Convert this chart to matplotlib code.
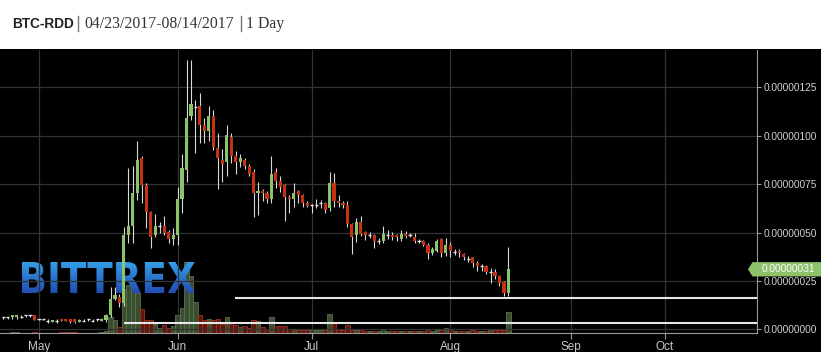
import numpy as np
import matplotlib
matplotlib.use("Agg")
import matplotlib.pyplot as plt
from matplotlib.textpath import TextPath
from matplotlib.patches import PathPatch, Polygon, Rectangle
from matplotlib.font_manager import FontProperties
from matplotlib.transforms import Affine2D, blended_transform_factory
from matplotlib.lines import Line2D

# ---------------- data (prices in satoshi = 1e-8 BTC), day 0 = 2017-04-23 ----------------
opens = [6.2, 6.2, 6.2, 6.2, 6.2, 7.2, 7.2, 7.2, 5.2, 5.2, 4.3, 3.8, 4.3, 5.2, 5.2, 5.2, 5.2, 3.8, 4.3, 5.2,
         4.3, 5.2, 4.4, 4.8, 7.4, 15.7, 16.7, 13.6, 48.7, 53.4, 70.4, 88.5, 74.5, 60.6, 48.7, 53.4, 53.4, 50.3, 46.6, 48.7,
         67.3, 82.3, 110.2, 114.8, 115.3, 105.5, 102.4, 110.2, 93.7, 87.5, 86.4, 99.3, 89.5, 86.4, 87.5, 84.4, 81.3, 70.4, 71.4, 70.4,
         67.3, 81.3, 76.6, 74.5, 68.3, 67.3, 71.4, 69.4, 65.2, 64.2, 64.2, 65.2, 65.2, 62.7, 75.6, 66.3, 65.2, 64.2, 54.4, 48.7,
         55.4, 50.3, 48.7, 48.7, 45.6, 45.6, 48.7, 48.7, 48.7, 46.6, 49.2, 48.7, 47.7, 45.6, 45.6, 43.5, 39.4, 40.4, 46.6, 39.4,
         43.5, 39.9, 40.4, 38.9, 36.3, 37.3, 34.2, 32.7, 32.7, 29.6, 29.6, 27.5, 24.4, 18.8]
highs = [6.4, 6.4, 7.4, 7.4, 7.2, 7.4, 7.4, 7.4, 5.4, 5.4, 5.2, 4.8, 5.3, 5.4, 5.4, 5.4, 5.4, 5.4, 5.4, 5.3,
         5.4, 5.3, 5.6, 8.0, 21.8, 22.0, 18.0, 52.8, 83.3, 84.4, 97.3, 89.5, 75.6, 61.0, 59.6, 55.4, 58.5, 51.3, 52.3, 73.5,
         90.6, 139.1, 139.1, 118.4, 122.1, 109.1, 115.3, 113.3, 101.4, 93.1, 105.5, 101.4, 92.1, 90.6, 88.5, 85.4, 82.8, 76.1, 72.5, 71.5,
         89.5, 83.3, 79.2, 75.0, 69.5, 75.6, 72.0, 70.0, 66.3, 64.7, 67.3, 67.0, 66.0, 81.3, 80.7, 69.4, 66.3, 66.3, 55.0, 57.5,
         58.5, 50.8, 50.3, 49.2, 47.0, 53.4, 51.3, 50.3, 49.2, 51.3, 50.8, 50.0, 49.5, 46.8, 46.0, 44.4, 42.5, 46.6, 47.0, 47.2,
         45.1, 41.5, 41.5, 39.5, 38.0, 37.5, 35.5, 33.5, 33.0, 31.7, 31.0, 28.0, 25.0, 42.5]
lows = [5.2, 5.2, 5.2, 5.4, 6.0, 6.2, 6.2, 4.6, 4.6, 4.6, 3.5, 3.6, 3.4, 4.1, 4.1, 3.5, 3.5, 3.6, 4.2, 4.2,
        4.2, 4.3, 4.2, 4.0, 6.5, 15.0, 11.7, 12.0, 44.6, 44.6, 66.8, 65.2, 52.3, 42.0, 47.7, 49.7, 48.7, 44.6, 43.5, 43.5,
        60.1, 76.1, 108.1, 91.1, 96.2, 96.2, 97.3, 92.6, 72.5, 76.1, 79.2, 85.9, 80.2, 83.8, 83.0, 79.0, 58.0, 59.0, 66.3, 65.4,
        65.2, 73.0, 71.0, 55.9, 60.1, 63.2, 65.2, 63.2, 63.2, 60.1, 62.7, 62.5, 60.1, 61.1, 63.2, 63.2, 62.5, 52.8, 38.9, 45.1,
        48.2, 46.1, 47.2, 42.0, 44.0, 44.6, 46.6, 46.1, 45.6, 45.6, 47.2, 47.5, 44.5, 44.5, 42.8, 36.3, 38.5, 39.9, 37.3, 37.9,
        37.3, 38.4, 37.5, 35.8, 34.6, 32.2, 30.1, 30.1, 28.6, 24.0, 26.0, 22.4, 17.2, 17.2]
closes = [6.2, 6.2, 7.2, 7.2, 6.2, 7.2, 7.2, 4.7, 5.2, 5.2, 4.3, 4.6, 4.3, 4.3, 4.3, 3.6, 3.6, 4.6, 4.3, 5.2,
          4.3, 5.2, 5.4, 7.4, 15.7, 17.7, 13.6, 48.7, 53.4, 70.4, 87.5, 74.5, 60.6, 47.7, 53.4, 53.4, 49.7, 46.6, 48.7, 67.3,
          83.3, 109.1, 116.4, 114.8, 105.5, 102.4, 110.2, 94.2, 88.5, 85.4, 100.4, 89.5, 86.4, 88.5, 84.4, 80.2, 70.4, 71.4, 70.4, 67.3,
          80.2, 76.6, 73.5, 68.3, 67.3, 70.4, 69.4, 65.2, 63.7, 64.2, 64.2, 65.2, 61.6, 75.6, 66.3, 65.2, 64.2, 54.4, 47.7, 55.4,
          49.2, 48.7, 48.7, 45.6, 45.6, 49.2, 48.7, 47.7, 47.7, 49.2, 48.2, 48.7, 45.6, 45.6, 43.5, 39.4, 41.5, 45.6, 39.4, 43.5,
          40.4, 39.9, 39.4, 37.3, 36.3, 34.2, 32.7, 32.7, 29.6, 29.6, 27.5, 23.9, 18.8, 31.0]
volumes = [0.4, 0.4, 0.6, 0.6, 0.3, 0.4, 0.4, 1.5, 0.3, 0.3, 0.3, 0.5, 0.3, 0.6, 0.6, 0.8, 0.8, 0.5, 0.3, 0.3,
           0.3, 0.3, 1.0, 2, 16, 13, 6, 44, 48, 44, 40, 24, 13, 13, 9, 5, 8, 5, 7, 18,
           25, 71, 57, 31, 18, 12.7, 14, 13, 14, 9, 16, 10, 8, 6, 7, 5, 13, 12, 6, 4,
           16, 7, 7, 7, 4, 4, 3, 3, 3, 3, 3, 3, 3, 19, 11, 3, 3, 8, 3, 3,
           3, 2, 2, 2, 2.5, 4, 2, 2, 2.5, 2.5, 2, 2, 2.5, 2, 2, 3, 2.5, 3, 3, 5,
           4, 2, 2, 2, 2.5, 3, 2, 2, 2, 4, 3, 3, 3, 21]
month_labels = ["May", "Jun", "Jul", "Aug", "Sep", "Oct"]
month_days = [8, 39, 69, 100, 127, 148]
price_ticks_sat = [0, 25, 50, 75, 100, 125]
level_prices = [16.3, 3.3]
level_start_days = [51.9, 27.0]
last_price = 31

SAT = 1e-8
o = np.array(opens) * SAT
h = np.array(highs) * SAT
l = np.array(lows) * SAT
c = np.array(closes) * SAT
v = np.array(volumes)
days = np.arange(len(opens))

W, H = 821, 352
fig = plt.figure(figsize=(W / 100, H / 100), dpi=100)
fig.patch.set_facecolor("white")
fig.add_artist(Rectangle((0, 0), 1, (H - 49) / H, transform=fig.transFigure,
                         facecolor="black", edgecolor="none", zorder=-10))

pos = [0, (H - 333) / H, 757 / W, (333 - 50) / H]
xlim = (-0.716, 168.6)

# volume axes (bottom layer)
ax_v = fig.add_axes(pos)
ax_v.set_zorder(1)
ax_v.axis("off")
up_v = c >= o
ax_v.bar(days[up_v], v[up_v], width=1.0, color="#394d2f", edgecolor="#5a7350", linewidth=0.6)
ax_v.bar(days[~up_v], v[~up_v], width=1.0, color="#5c160c", edgecolor="#9a3526", linewidth=0.6)
ax_v.set_xlim(*xlim)
ax_v.set_ylim(0, v.max() / 0.25)

# logo layer
ax_logo = fig.add_axes([0, 0, 1, 1])
ax_logo.set_zorder(2)
ax_logo.axis("off")
ax_logo.set_xlim(0, W)
ax_logo.set_ylim(0, H)
fp = FontProperties(family="DejaVu Sans", weight="bold")
tp = TextPath((0, 0), "BITTREX", size=1, prop=fp)
ext = tp.get_extents()
x0, x1, y0, y1 = 22, 195, H - 293, H - 262
tr = Affine2D().translate(-ext.x0, -ext.y0).scale((x1 - x0) / ext.width, (y1 - y0) / ext.height).translate(x0, y0)
patch = PathPatch(tp, transform=tr + ax_logo.transData, facecolor="none", edgecolor="none")
ax_logo.add_patch(patch)
grad = np.linspace(0, 1, 64).reshape(-1, 1)
top_c = np.array([0.20, 0.62, 0.90])
bot_c = np.array([0.13, 0.30, 0.70])
img = top_c[None, None, :] * (1 - grad[:, :, None]) + bot_c[None, None, :] * grad[:, :, None]
im = ax_logo.imshow(img, extent=[x0, x1, y0, y1], aspect="auto", origin="upper")
im.set_clip_path(patch)

# price axes (top layer)
ax = fig.add_axes(pos)
ax.set_zorder(3)
ax.set_facecolor("none")
ax.set_xlim(*xlim)
ax.set_ylim(-1.91 * SAT, 144.3 * SAT)

ax.grid(True, color="#333333", linewidth=0.9, zorder=0)
ax.set_axisbelow(True)

# levels
for lp, ls in zip(level_prices, level_start_days):
    ax.hlines(lp * SAT, ls, xlim[1], colors="#e6e6e6", linewidth=1.5, zorder=2)

# candles
ax.vlines(days, l, h, colors="#d9d9d9", linewidth=0.8, zorder=3)
up = c > o
dn = c < o
eq = c == o
ax.bar(days[up], (c - o)[up], bottom=o[up], width=0.7, color="#8cc26c", zorder=4)
ax.bar(days[dn], (o - c)[dn], bottom=c[dn], width=0.7, color="#c4320f", zorder=4)
ax.hlines(c[eq], days[eq] - 0.35, days[eq] + 0.35, colors="#e6e6e6", linewidth=1.0, zorder=4)

# axes styling
for s in ["left", "top"]:
    ax.spines[s].set_visible(False)
ax.spines["right"].set_color("#9a9a9a")
ax.spines["bottom"].set_color("#9a9a9a")
ax.yaxis.tick_right()
ax.set_yticks([t * SAT for t in price_ticks_sat])
ax.set_yticklabels([f"{t * SAT:.8f}" for t in price_ticks_sat])
ax.set_xticks(month_days)
ax.set_xticklabels(month_labels)
ax.tick_params(axis="y", colors="#9a9a9a", labelcolor="#d0d0d0", length=3, pad=2, labelsize=7.3)
ax.tick_params(axis="x", colors="#9a9a9a", labelcolor="#c8c8c8", length=4, pad=1.5, labelsize=8.5)
for lab in ax.get_xticklabels() + ax.get_yticklabels():
    lab.set_fontfamily("Liberation Sans")

# current price tag
bt = blended_transform_factory(ax.transAxes, ax.transData)
hh = 3.7 * SAT
tag = Polygon([[748 / 757, last_price * SAT], [752.5 / 757, last_price * SAT + hh],
               [821 / 757, last_price * SAT + hh], [821 / 757, last_price * SAT - hh],
               [752.5 / 757, last_price * SAT - hh]], closed=True, transform=bt,
              facecolor="#8cc26c", edgecolor="none", clip_on=False, zorder=6)
ax.add_patch(tag)
ax.text(762 / 757, last_price * SAT, f"{last_price * SAT:.8f}", transform=bt, color="white",
        fontsize=7.3, family="Liberation Sans", va="center", ha="left", zorder=7, clip_on=False)

# header
yc = 1 - 23.5 / H
fig.text(12 / W, yc, "BTC-RDD", fontsize=9.8, fontweight="bold", family="Liberation Sans",
         color="#222222", va="center", ha="left")
fig.add_artist(Line2D([78 / W, 78 / W], [1 - 16 / H, 1 - 31 / H], color="#777777", linewidth=1.0))
fig.text(84 / W, yc, "04/23/2017-08/14/2017", fontsize=11.3, family="Liberation Serif",
         color="#333333", va="center", ha="left")
fig.add_artist(Line2D([241 / W, 241 / W], [1 - 16 / H, 1 - 31 / H], color="#777777", linewidth=1.0))
fig.text(246 / W, yc, "1 Day", fontsize=11.3, family="Liberation Serif",
         color="#333333", va="center", ha="left")

fig.savefig("out.png", dpi=100, facecolor=fig.get_facecolor())
